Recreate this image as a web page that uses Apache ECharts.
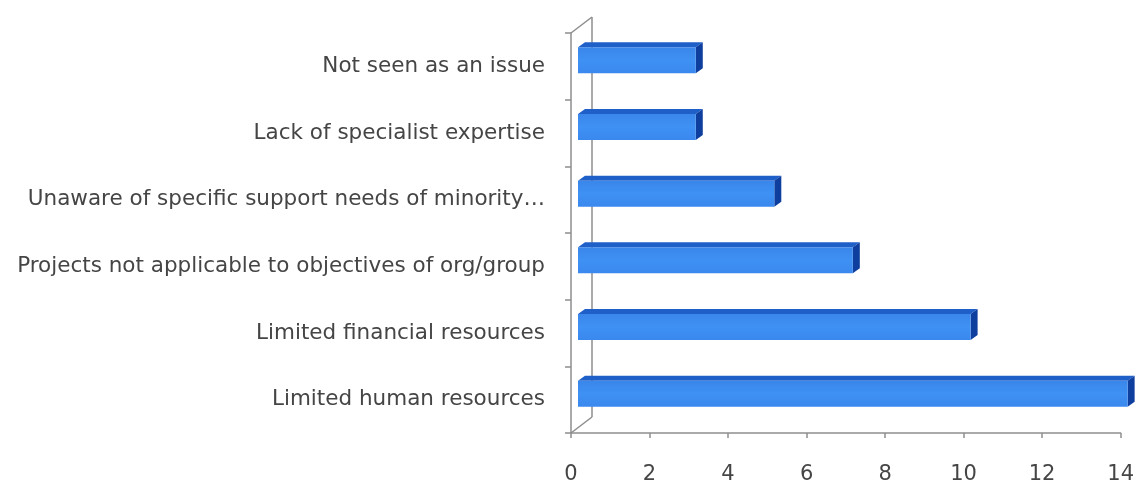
<!DOCTYPE html>
<html>
<head>
<meta charset="utf-8">
<title>Barriers</title>
<script src="https://cdn.jsdelivr.net/npm/echarts@6/dist/echarts.min.js"></script>
<style>
  html, body { margin: 0; padding: 0; background: #fff; }
  #chart { width: 1137px; height: 487px; }
</style>
</head>
<body>
<div id="chart"></div>
<script>
// Categories listed top to bottom
const categories = [
  'Not seen as an issue',
  'Lack of specialist expertise',
  'Unaware of specific support needs of minority\u2026',
  'Projects not applicable to objectives of org/group',
  'Limited financial resources',
  'Limited human resources'
];
const values = [3, 3, 5, 7, 10, 14];
const xTicks = { min: 0, max: 14, interval: 2 };

const FONT = '"DejaVu Sans", sans-serif';
const TEXT = '#454545';
const AXIS = '#8e8e8e';

// Depth of the 3D look (pixels): back wall, bar front face, bar thickness
const WALL = [21, -16];
const FRONT = [7, -6];
const DEPTH = [7, -5];

function renderBar(params, api) {
  const v = api.value(0);
  const c = api.value(1);
  const p0 = api.coord([0, c]);
  const p1 = api.coord([v, c]);
  const band = api.size([0, 1])[1];
  const h = band * 0.39;
  const x0 = p0[0] + FRONT[0];
  const x1 = p1[0] + FRONT[0];
  const yc = p0[1] + FRONT[1];
  const top = yc - h / 2;
  const bot = yc + h / 2;
  const dx = DEPTH[0], dy = DEPTH[1];
  return {
    type: 'group',
    children: [
      {
        type: 'polygon',
        shape: { points: [[x0, top], [x1, top], [x1 + dx, top + dy], [x0 + dx, top + dy]] },
        style: { fill: '#1f5fc8' }
      },
      {
        type: 'polygon',
        shape: { points: [[x1, top], [x1 + dx, top + dy], [x1 + dx, bot + dy], [x1, bot]] },
        style: { fill: '#0f3f9e' }
      },
      {
        type: 'rect',
        shape: { x: x0, y: top, width: x1 - x0, height: h },
        style: {
          fill: {
            type: 'linear', x: 0, y: 0, x2: 0, y2: 1,
            colorStops: [
              { offset: 0, color: '#3a86ea' },
              { offset: 0.5, color: '#3f91f4' },
              { offset: 1, color: '#3a88ee' }
            ]
          }
        }
      }
    ]
  };
}

function renderWall(params, api) {
  const r = params.coordSys;
  const bx = r.x + WALL[0];
  const lineStyle = { stroke: AXIS, lineWidth: 1.5 };
  return {
    type: 'group',
    children: [
      { type: 'line', shape: { x1: bx, y1: r.y + WALL[1], x2: bx, y2: r.y + r.height + WALL[1] }, style: lineStyle },
      { type: 'line', shape: { x1: r.x, y1: r.y, x2: bx, y2: r.y + WALL[1] }, style: lineStyle },
      { type: 'line', shape: { x1: r.x, y1: r.y + r.height, x2: bx, y2: r.y + r.height + WALL[1] }, style: lineStyle }
    ]
  };
}

const chart = echarts.init(document.getElementById('chart'));
chart.setOption({
  animation: false,
  backgroundColor: '#fff',
  grid: { left: 571, right: 16, top: 33, bottom: 54 },
  xAxis: {
    type: 'value',
    min: xTicks.min, max: xTicks.max, interval: xTicks.interval,
    splitLine: { show: false },
    axisLine: { show: true, lineStyle: { color: AXIS, width: 1.5 } },
    axisTick: { show: true, length: 5, lineStyle: { color: AXIS, width: 1.5 } },
    axisLabel: { color: TEXT, fontFamily: FONT, fontSize: 21, margin: 31 }
  },
  yAxis: {
    type: 'category',
    inverse: true,
    data: categories,
    axisLine: { show: true, lineStyle: { color: AXIS, width: 1.5 } },
    axisTick: { show: true, length: 6, lineStyle: { color: AXIS, width: 1.5 } },
    axisLabel: { color: TEXT, fontFamily: FONT, fontSize: 21.5, margin: 26, padding: [4, 0, 0, 0] }
  },
  series: [
    {
      type: 'custom',
      renderItem: renderWall,
      data: [[0, 0]],
      encode: { x: 0, y: 1 },
      silent: true,
      z: 1
    },
    {
      type: 'custom',
      renderItem: renderBar,
      data: values.map((v, i) => [v, i]),
      encode: { x: 0, y: 1 },
      z: 2
    }
  ]
});
</script>
</body>
</html>
